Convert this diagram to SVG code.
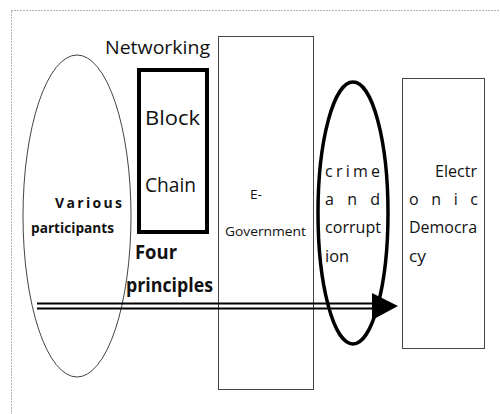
<svg xmlns="http://www.w3.org/2000/svg" width="500" height="414" viewBox="0 0 500 414">
  <defs>
    <style>
      text { font-family: "Open Sans", "Noto Sans", "Liberation Sans", sans-serif; fill: #111; }
      .thin { fill: none; stroke: #444; stroke-width: 1; }
      .bold { font-weight: bold; }
    </style>
  </defs>
  <rect width="500" height="414" fill="#fff"/>
  <!-- dotted frame -->
  <rect x="11.5" y="10.5" width="520" height="420" fill="none" stroke="#666" stroke-width="1" stroke-dasharray="1,2"/>

  <g id="participants">
    <ellipse cx="77" cy="216" rx="54" ry="161" class="thin" stroke="#555"/>
    <text x="55" y="208" class="bold" font-size="14" textLength="67" lengthAdjust="spacing">Various</text>
    <text x="31" y="233" class="bold" font-size="14" textLength="83" lengthAdjust="spacingAndGlyphs">participants</text>
  </g>

  <g id="networking">
    <text x="105" y="54" font-size="19" textLength="105" lengthAdjust="spacingAndGlyphs">Networking</text>
  </g>

  <g id="blockchain">
    <rect x="139" y="70" width="68" height="162" fill="none" stroke="#000" stroke-width="4"/>
    <text x="145" y="125" font-size="20" textLength="55" lengthAdjust="spacingAndGlyphs">Block</text>
    <text x="145" y="192" font-size="20" textLength="51" lengthAdjust="spacingAndGlyphs">Chain</text>
  </g>

  <g id="principles">
    <text x="135" y="259" class="bold" font-size="19" textLength="42" lengthAdjust="spacingAndGlyphs">Four</text>
    <text x="126" y="292" class="bold" font-size="19" textLength="87" lengthAdjust="spacingAndGlyphs">principles</text>
  </g>

  <g id="egovernment">
    <rect x="218.5" y="36.5" width="95" height="353" class="thin"/>
    <text x="250" y="199" font-size="13" textLength="12" lengthAdjust="spacingAndGlyphs">E-</text>
    <text x="225" y="236" font-size="13" textLength="81" lengthAdjust="spacingAndGlyphs">Government</text>
  </g>

  <g id="crime">
    <ellipse cx="353" cy="213" rx="35" ry="131" fill="none" stroke="#000" stroke-width="3.5"/>
    <text x="325" y="177" font-size="16" textLength="55" lengthAdjust="spacing">crime</text>
    <text x="325" y="205" font-size="16" textLength="55" lengthAdjust="spacing">a n d</text>
    <text x="325" y="233" font-size="16" textLength="56" lengthAdjust="spacingAndGlyphs">corrupt</text>
    <text x="325" y="262" font-size="16" textLength="24" lengthAdjust="spacingAndGlyphs">ion</text>
  </g>

  <g id="democracy">
    <rect x="402.5" y="78.5" width="82" height="270" class="thin"/>
    <text x="435" y="177" font-size="16" textLength="42" lengthAdjust="spacingAndGlyphs">Electr</text>
    <text x="409" y="205" font-size="16" textLength="69" lengthAdjust="spacing">o n i c</text>
    <text x="409" y="233" font-size="16" textLength="68" lengthAdjust="spacingAndGlyphs">Democra</text>
    <text x="409" y="262" font-size="16" textLength="17" lengthAdjust="spacingAndGlyphs">cy</text>
  </g>

  <g id="connectors">
    <line x1="37" y1="303.5" x2="374" y2="303.5" stroke="#000" stroke-width="2"/>
    <line x1="37" y1="308.5" x2="374" y2="308.5" stroke="#000" stroke-width="2"/>
    <polygon points="372,293 398,306 372,320" fill="#000"/>
  </g>
</svg>
